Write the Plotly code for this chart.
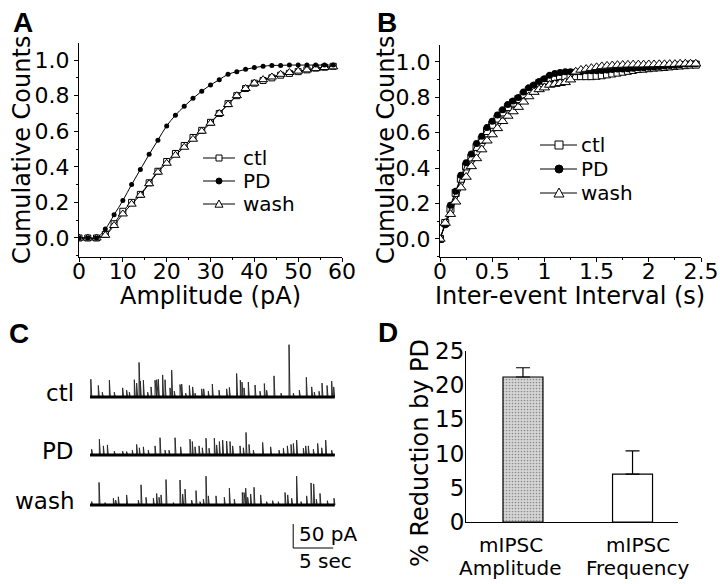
import plotly.graph_objects as go

# ---------------- data ----------------
series_names = ["ctl", "PD", "wash"]

# Panel A: cumulative amplitude distributions (pA)
amp_x = [0, 2, 4, 6, 8, 10, 12, 14, 16, 18, 20, 22, 24, 26, 28,
         30, 32, 34, 36, 38, 40, 42, 44, 46, 48, 50, 52, 54, 56, 58]
amp_ctl = [0, 0, 0, 0.02, 0.08, 0.15, 0.20, 0.245, 0.31, 0.375,
           0.43, 0.475, 0.52, 0.565, 0.605, 0.65, 0.70, 0.755, 0.80, 0.84,
           0.87, 0.885, 0.90, 0.915, 0.925, 0.935, 0.945, 0.955, 0.96, 0.965]
amp_pd = [0, 0, 0, 0.05, 0.13, 0.21, 0.30, 0.385, 0.47, 0.55,
          0.63, 0.69, 0.74, 0.785, 0.825, 0.86, 0.89, 0.92, 0.935, 0.948,
          0.958, 0.965, 0.97, 0.97, 0.972, 0.972, 0.972, 0.972, 0.972, 0.972]
amp_wash = [0, 0, 0, 0.015, 0.07, 0.135, 0.19, 0.24, 0.305, 0.37,
            0.42, 0.465, 0.51, 0.555, 0.60, 0.645, 0.70, 0.75, 0.80, 0.84,
            0.87, 0.89, 0.905, 0.92, 0.93, 0.938, 0.945, 0.952, 0.958, 0.962]

# Panel B: cumulative inter-event interval distributions (s)
iei_x = [0, 0.05, 0.1, 0.15, 0.2, 0.25, 0.3, 0.35, 0.4, 0.45,
         0.5, 0.55, 0.6, 0.65, 0.7, 0.75, 0.8, 0.85, 0.9, 0.95,
         1.0, 1.05, 1.1, 1.15, 1.2, 1.25, 1.3, 1.35, 1.4, 1.45,
         1.5, 1.55, 1.6, 1.65, 1.7, 1.75, 1.8, 1.85, 1.9, 1.95,
         2.0, 2.05, 2.1, 2.15, 2.2, 2.25, 2.3, 2.35, 2.4, 2.45]
iei_ctl = [0, 0.09, 0.17, 0.26, 0.34, 0.41, 0.46, 0.52, 0.56, 0.61,
           0.645, 0.68, 0.715, 0.745, 0.77, 0.79, 0.815, 0.84, 0.86, 0.88,
           0.895, 0.91, 0.915, 0.92, 0.92, 0.92, 0.92, 0.92, 0.92, 0.92,
           0.922, 0.925, 0.93, 0.935, 0.94, 0.945, 0.95, 0.955, 0.96, 0.962,
           0.965, 0.968, 0.97, 0.972, 0.975, 0.978, 0.98, 0.982, 0.985, 0.985]
iei_pd = [0, 0.08, 0.19, 0.27, 0.36, 0.43, 0.48, 0.54, 0.58, 0.63,
          0.665, 0.70, 0.73, 0.76, 0.78, 0.80, 0.83, 0.855, 0.87, 0.89,
          0.905, 0.925, 0.935, 0.94, 0.945, 0.945, 0.945, 0.945, 0.95, 0.95,
          0.95, 0.952, 0.955, 0.957, 0.96, 0.96, 0.962, 0.965, 0.967, 0.968,
          0.97, 0.972, 0.975, 0.977, 0.98, 0.982, 0.985, 0.988, 0.99, 0.99]
iei_wash = [0, 0.09, 0.14, 0.21, 0.29, 0.35, 0.41, 0.455, 0.505, 0.555,
            0.59, 0.625, 0.665, 0.695, 0.72, 0.745, 0.775, 0.805, 0.83, 0.845,
            0.855, 0.87, 0.875, 0.88, 0.885, 0.90, 0.945, 0.955, 0.96, 0.965,
            0.97, 0.975, 0.978, 0.98, 0.982, 0.983, 0.984, 0.985, 0.985, 0.985,
            0.986, 0.986, 0.987, 0.987, 0.988, 0.988, 0.99, 0.99, 0.99, 0.99]

# Panel C: mIPSC events (time s, amplitude pA)
trace_duration = 30.6
ctl_times = [0.1, 1.04, 1.54, 2.42, 3.04, 4.08, 4.58, 4.92, 5.54, 5.83,
             6.13, 6.29, 6.67, 7.21, 7.63, 8.13, 8.33, 8.54, 9.08, 9.38,
             10.0, 10.21, 10.54, 11.25, 11.46, 11.96, 12.42, 12.83, 13.13, 13.96,
             14.21, 14.79, 15.29, 16.13, 17.08, 17.42, 18.33, 18.79, 19.0, 19.25,
             19.79, 20.63, 21.25, 21.79, 22.08, 23.0, 23.88, 24.88, 25.42, 26.17,
             27.04, 27.71, 28.04, 28.63, 29.0, 29.63, 30.21, 30.46]
ctl_amps = [37, 24, 10, 35, 10, 19, 14, 10, 36, 29,
            72, 33, 35, 10, 21, 35, 36, 37, 46, 36,
            19, 56, 12, 26, 27, 8, 24, 21, 8, 17,
            17, 12, 27, 14, 17, 20, 49, 35, 31, 19,
            31, 25, 12, 28, 14, 44, 8, 109, 8, 14,
            41, 21, 10, 12, 29, 24, 33, 21]
pd_times = [0.21, 1.17, 1.67, 2.17, 3.04, 4.08, 4.58, 5.29, 5.83, 6.17,
            6.67, 7.29, 8.13, 8.75, 9.38, 9.88, 10.63, 11.33, 12.5, 12.79,
            13.13, 13.63, 14.04, 14.5, 14.88, 15.54, 15.83, 16.17, 16.58, 17.08,
            17.5, 17.83, 18.75, 19.17, 19.5, 19.88, 20.42, 21.58, 22.58, 23.63,
            24.17, 24.67, 25.13, 25.42, 25.83, 26.67, 26.96, 27.29, 27.92, 28.46,
            28.96, 29.46, 30.21]
pd_amps = [12, 33, 19, 21, 8, 8, 7, 10, 22, 15,
           17, 10, 19, 36, 10, 10, 36, 17, 33, 28,
           17, 19, 15, 35, 14, 35, 21, 28, 31, 29,
           28, 19, 19, 15, 47, 22, 10, 26, 17, 10,
           14, 19, 22, 24, 31, 14, 19, 19, 12, 24,
           15, 31, 10]
wash_times = [0.21, 1.13, 1.88, 2.92, 3.21, 3.54, 4.58, 6.04, 6.38, 7.0,
              7.92, 8.33, 8.63, 8.88, 9.5, 10.42, 11.25, 11.58, 11.88, 12.71,
              13.25, 13.75, 14.17, 14.5, 14.79, 15.75, 16.79, 17.42, 18.04, 19.04,
              19.25, 19.46, 19.71, 20.08, 20.5, 21.33, 22.08, 22.83, 23.54, 24.38,
              24.71, 25.21, 25.83, 26.38, 27.08, 27.63, 27.96, 28.29, 28.75, 29.67,
              30.5]
wash_amps = [7, 47, 5, 14, 10, 17, 21, 10, 42, 16,
             14, 24, 16, 21, 53, 5, 52, 23, 33, 10,
             30, 7, 12, 60, 19, 19, 16, 35, 12, 26,
             26, 35, 16, 23, 37, 21, 7, 9, 7, 26,
             21, 14, 60, 7, 19, 46, 44, 12, 24, 9,
             14]
scale_bar_pA = 50
scale_bar_s = 5

# Panel D: % reduction by PD
bar_categories = ["mIPSC Amplitude", "mIPSC Frequency"]
bar_values = [21.2, 7.0]
bar_errors = [1.35, 3.4]

# ---------------- layout helpers ----------------
W, H = 720, 584
FONT = "DejaVu Sans"
TICK_SIZE = 22


def X(px):
    return px / W


def Y(py):
    return 1 - py / H


marker_styles = {
    "ctl": dict(symbol="square", color="white", line=dict(color="black", width=1)),
    "PD": dict(symbol="circle", color="black", line=dict(color="black", width=0)),
    "wash": dict(symbol="triangle-up", color="white", line=dict(color="black", width=1)),
}
size_A = {"ctl": 6, "PD": 5, "wash": 8}
size_B = {"ctl": 7, "PD": 7, "wash": 9}

fig = go.Figure()

# Panel A
for name, ys in zip(["ctl", "wash", "PD"], [amp_ctl, amp_wash, amp_pd]):
    st = dict(marker_styles[name])
    st["size"] = size_A[name]
    fig.add_trace(go.Scatter(x=amp_x, y=ys, mode="lines+markers", name=name,
                             line=dict(color="black", width=1, shape="spline"),
                             marker=st, xaxis="x", yaxis="y", showlegend=False))

# Panel B
for name, ys in zip(["ctl", "PD", "wash"], [iei_ctl, iei_pd, iei_wash]):
    st = dict(marker_styles[name])
    st["size"] = size_B[name]
    fig.add_trace(go.Scatter(x=iei_x, y=ys, mode="lines+markers", name=name,
                             line=dict(color="black", width=1),
                             marker=st, xaxis="x2", yaxis="y2", showlegend=False))

# Panel C: traces
C_PX_PER_PA = 24 / 50.0
C_TOP, C_BOT, C_BASE = 335, 575, 397
trace_base_px = {"ctl": 397, "PD": 455, "wash": 505}


def pa_offset(px):
    return -(px - C_BASE) / C_PX_PER_PA


for name, times, amps in [("ctl", ctl_times, ctl_amps),
                          ("PD", pd_times, pd_amps),
                          ("wash", wash_times, wash_amps)]:
    off = pa_offset(trace_base_px[name])
    xs, ys = [0.0], [off]
    for t, a in zip(times, amps):
        xs += [t, t, t + 0.12]
        ys += [off, off + a, off]
    xs.append(trace_duration)
    ys.append(off)
    fig.add_trace(go.Scatter(x=xs, y=ys, mode="lines", name=name,
                             line=dict(color="#2a2a2a", width=1),
                             xaxis="x3", yaxis="y3", showlegend=False,
                             hoverinfo="skip"))
    fig.add_trace(go.Scatter(x=[0, trace_duration], y=[off, off], mode="lines",
                             line=dict(color="black", width=3.2),
                             xaxis="x3", yaxis="y3", showlegend=False,
                             hoverinfo="skip"))

# scale bar
sb_x0 = 25.4
sb_y0 = pa_offset(548)
fig.add_trace(go.Scatter(x=[sb_x0, sb_x0, sb_x0 + scale_bar_s],
                         y=[sb_y0 + scale_bar_pA, sb_y0, sb_y0],
                         mode="lines", line=dict(color="black", width=1),
                         xaxis="x3", yaxis="y3", showlegend=False, hoverinfo="skip"))

# Panel D
fig.add_trace(go.Bar(x=[0, 1], y=bar_values, width=0.365,
                     marker=dict(color=["#d6d6d6", "white"],
                                 line=dict(color="black", width=1.2),
                                 pattern=dict(shape=[".", ""], fillmode="overlay",
                                              fgcolor="#a8a8a8", size=3, solidity=0.25)),
                     error_y=dict(type="data", array=bar_errors, arrayminus=[0, 0],
                                  symmetric=False, color="black", thickness=1.2, width=7),
                     xaxis="x4", yaxis="y4", showlegend=False))

axis_common = dict(showline=True, linecolor="black", linewidth=1, showgrid=False,
                   zeroline=False, ticks="outside", ticklen=4, tickcolor="black",
                   automargin=False,
                   tickfont=dict(family=FONT, size=TICK_SIZE, color="black"))

fig.update_layout(
    width=W, height=H,
    margin=dict(l=0, r=0, t=0, b=0, pad=0, autoexpand=False),
    paper_bgcolor="white", plot_bgcolor="white",
    xaxis=dict(domain=[X(79), X(342)], range=[0, 60], anchor="y",
               tickvals=[0, 10, 20, 30, 40, 50, 60], ticklabelstandoff=-9,
               ticklabeloverflow="allow",
               minor=dict(dtick=5, ticks="outside", ticklen=2, tickcolor="black"),
               **axis_common),
    yaxis=dict(domain=[Y(257), Y(43)], range=[-0.107, 1.096], anchor="x",
               tickvals=[0, 0.2, 0.4, 0.6, 0.8, 1.0], tickformat=".1f",
               minor=dict(dtick=0.1, ticks="outside", ticklen=2, tickcolor="black"),
               **axis_common),
    xaxis2=dict(domain=[X(440), X(701)], range=[0, 2.5], anchor="y2",
                tickvals=[0, 0.5, 1, 1.5, 2, 2.5], ticklabelstandoff=-9,
                ticktext=["0", "0.5", "1", "1.5", "2", "2.5"],
                ticklabeloverflow="allow",
                minor=dict(dtick=0.25, ticks="outside", ticklen=2, tickcolor="black"),
                **axis_common),
    yaxis2=dict(domain=[Y(257), Y(45)], range=[-0.102, 1.096], anchor="x2",
                tickvals=[0, 0.2, 0.4, 0.6, 0.8, 1.0], tickformat=".1f",
                minor=dict(dtick=0.1, ticks="outside", ticklen=2, tickcolor="black"),
                **axis_common),
    xaxis3=dict(domain=[X(90), X(340)], range=[0, 250 / 8.0], anchor="y3",
                visible=False, automargin=False),
    yaxis3=dict(domain=[Y(C_BOT), Y(C_TOP)],
                range=[pa_offset(C_BOT), pa_offset(C_TOP)], anchor="x3",
                visible=False, automargin=False),
    xaxis4=dict(domain=[X(466), X(678)], range=[-0.52, 1.415], anchor="y4",
                showline=True, linecolor="black", linewidth=1, showgrid=False,
                zeroline=False, ticks="", showticklabels=False, automargin=False),
    yaxis4=dict(domain=[Y(522), Y(351)], range=[0, 25], anchor="x4",
                showline=True, linecolor="black", linewidth=1, showgrid=False,
                zeroline=False, ticks="", tickvals=[0, 5, 10, 15, 20, 25],
                automargin=False, ticklabelstandoff=-4,
                tickfont=dict(family=FONT, size=23, color="black")),
)

ann = []


def text(xpx, ypx, s, size, anchor="center", angle=0, bold=False, family=FONT):
    ann.append(dict(x=X(xpx), y=Y(ypx), xref="paper", yref="paper", text=s,
                    showarrow=False, xanchor=anchor, yanchor="middle",
                    textangle=angle,
                    font=dict(family=family, size=size, color="black",
                              weight="bold" if bold else "normal")))


# panel letters
text(23, 22, "A", 28, bold=True, family="Liberation Sans")
text(387, 22, "B", 28, bold=True, family="Liberation Sans")
text(19, 333, "C", 28, bold=True, family="Liberation Sans")
text(388, 332, "D", 28, bold=True, family="Liberation Sans")

# axis titles
text(22, 150, "Cumulative Counts", 24, angle=-90)
text(386, 150, "Cumulative Counts", 24, angle=-90)
text(210, 296, "Amplitude (pA)", 24)
text(570, 296, "Inter-event Interval (s)", 24)
text(420, 453, "% Reduction by PD", 24, angle=-90)

# trace labels (panel C)
for name in series_names:
    text(76, trace_base_px[name] - 4, name, 23, anchor="right")

# scale bar labels
ann.append(dict(x=25.9, y=pa_offset(534), xref="x3", yref="y3", text="50 pA",
                showarrow=False, xanchor="left", yanchor="middle",
                font=dict(family=FONT, size=20, color="black")))
ann.append(dict(x=29.4, y=pa_offset(561), xref="x3", yref="y3", text="5 sec",
                showarrow=False, xanchor="center", yanchor="middle",
                font=dict(family=FONT, size=20, color="black")))

# bar category labels (two lines each)
label_shift = [-12, 5]
for i, cat in enumerate(bar_categories):
    first, second = cat.split(" ", 1)
    for line_txt, ypx in [(first, 545), (second, 568)]:
        ann.append(dict(x=i, y=Y(ypx), xref="x4", yref="paper", text=line_txt,
                        showarrow=False, xanchor="center", yanchor="middle",
                        xshift=label_shift[i],
                        font=dict(family=FONT, size=20, color="black")))

# manual legends for A and B
shapes = []
legend_A = dict(rows=[158, 181, 204], x0=203, x1=235, xm=219, xt=241, ms=6)
legend_B = dict(rows=[145, 169, 193], x0=540, x1=577, xm=559, xt=579, ms=8)
for lg in (legend_A, legend_B):
    for name, ypx in zip(series_names, lg["rows"]):
        shapes.append(dict(type="line", xref="paper", yref="paper",
                           x0=X(lg["x0"]), x1=X(lg["x1"]), y0=Y(ypx), y1=Y(ypx),
                           line=dict(color="black", width=1)))
        r = lg["ms"] / 2.0
        xm = lg["xm"]
        if name == "ctl":
            shapes.append(dict(type="rect", xref="paper", yref="paper",
                               x0=X(xm - r), x1=X(xm + r), y0=Y(ypx + r), y1=Y(ypx - r),
                               fillcolor="white", line=dict(color="black", width=1)))
        elif name == "PD":
            shapes.append(dict(type="circle", xref="paper", yref="paper",
                               x0=X(xm - r), x1=X(xm + r), y0=Y(ypx + r), y1=Y(ypx - r),
                               fillcolor="black", line=dict(color="black", width=1)))
        else:
            rr = r + 1
            path = "M {} {} L {} {} L {} {} Z".format(
                X(xm - rr), Y(ypx + rr * 0.8), X(xm + rr), Y(ypx + rr * 0.8),
                X(xm), Y(ypx - rr))
            shapes.append(dict(type="path", xref="paper", yref="paper", path=path,
                               fillcolor="white", line=dict(color="black", width=1)))
        text(lg["xt"], ypx, name, 20, anchor="left")

fig.update_layout(annotations=ann, shapes=shapes)
fig.write_html("out.html",
               config={"displayModeBar": False, "staticPlot": True},
               post_script="document.body.style.margin='0';"
                           "document.body.style.padding='0';")
